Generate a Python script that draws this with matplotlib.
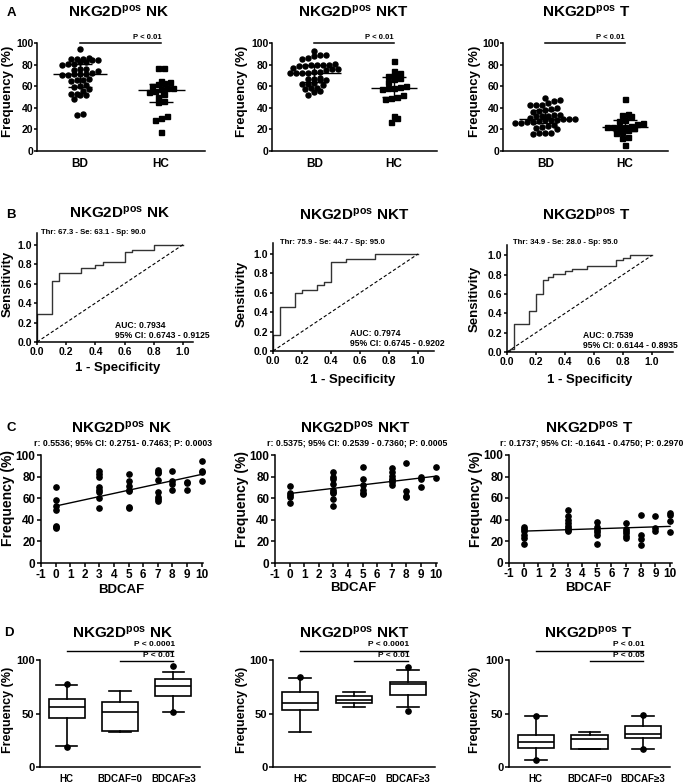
import numpy as np
import matplotlib
matplotlib.use('Agg')
import matplotlib.pyplot as plt

W, H = 687, 784
plt.rcParams['font.family'] = ['Liberation Sans', 'DejaVu Sans']
plt.rcParams['font.weight'] = 'bold'
plt.rcParams['mathtext.fontset'] = 'custom'
plt.rcParams['mathtext.rm'] = 'Liberation Sans:bold'
plt.rcParams['mathtext.default'] = 'rm'
plt.rcParams['axes.unicode_minus'] = False

cells = ['NK', 'NKT', 'T']

# ---- A: frequency, BD vs HC ----
nk_bd = [94, 85, 85, 84, 84, 85, 86, 82, 81, 82, 80, 81, 76, 75, 74, 76,
         72, 71, 71, 70, 71, 70, 66, 67, 65, 66, 60, 61, 59, 57, 56,
         53, 52, 52, 53, 48, 33, 34]
nk_hc = [77, 77, 65, 64, 63, 62, 60, 58, 58, 57, 56, 55, 53, 50, 46, 45,
         31, 32, 29, 18]
nkt_bd = [93, 89, 88, 89, 86, 85, 80, 79, 80, 80, 79, 81, 80, 76, 76, 75, 77,
          72, 73, 72, 72, 73, 72, 67, 66, 67, 66, 68, 62, 61, 62, 63,
          58, 57, 58, 55, 56, 52]
nkt_hc = [83, 74, 72, 69, 70, 68, 67, 64, 60, 59, 58, 57, 58, 52, 50, 49,
          48, 32, 31, 27]
t_bd = [49, 46, 47, 43, 43, 44, 43, 40, 38, 39, 37, 36, 33, 32, 32, 33, 32,
        31, 30, 29, 29, 30, 29, 28, 30, 27, 26, 27, 26, 24, 23, 22, 21, 20,
        17, 17, 16, 17]
t_hc = [48, 34, 33, 32, 28, 29, 26, 25, 23, 22, 22, 22, 21, 22, 18, 19, 17,
        13, 12, 6]
a_groups = ['BD', 'HC']
a_p = ['P < 0.01', 'P < 0.01', 'P < 0.01']

# ---- B: ROC curves (step vertices) ----
nk_fpr = [0, 0, 0.10, 0.15, 0.30, 0.40, 0.45, 0.60, 0.65, 0.80, 1.0]
nk_tpr = [0, 0.29, 0.63, 0.71, 0.76, 0.79, 0.82, 0.92, 0.95, 1.0, 1.0]
nkt_fpr = [0, 0, 0.05, 0.15, 0.20, 0.30, 0.35, 0.40, 0.50, 0.70, 1.0]
nkt_tpr = [0, 0.16, 0.45, 0.60, 0.63, 0.68, 0.71, 0.92, 0.945, 1.0, 1.0]
t_fpr = [0, 0, 0.02, 0.05, 0.15, 0.20, 0.25, 0.28, 0.32, 0.40, 0.45, 0.55,
         0.75, 0.80, 0.85, 1.0]
t_tpr = [0, 0.01, 0.03, 0.29, 0.42, 0.60, 0.74, 0.78, 0.81, 0.84, 0.86, 0.89,
         0.95, 0.97, 1.0, 1.0]
roc_thr = ['Thr: 67.3 - Se: 63.1 - Sp: 90.0', 'Thr: 75.9 - Se: 44.7 - Sp: 95.0',
           'Thr: 34.9 - Se: 28.0 - Sp: 95.0']
roc_auc = ['AUC: 0.7934', 'AUC: 0.7974', 'AUC: 0.7539']
roc_ci = ['95% CI: 0.6743 - 0.9125', '95% CI: 0.6745 - 0.9202',
          '95% CI: 0.6144 - 0.8935']

# ---- C: correlation with BDCAF ----
bdcaf_scores = [0, 3, 5, 7, 8, 9, 10]
nk_c = [[70, 58, 53, 49, 34, 33, 32], [85, 82, 80, 70, 68, 66, 60, 51],
        [82, 76, 71, 68, 67, 52, 51], [86, 84, 83, 77, 66, 61, 59, 57],
        [85, 76, 73, 68], [75, 74, 68], [94, 85, 84, 76]]
nkt_c = [[71, 65, 63, 61, 56], [84, 80, 78, 73, 68, 66, 65, 59, 53],
         [89, 78, 72, 68, 65, 64], [88, 84, 81, 78, 77, 75, 72],
         [93, 67, 62, 61], [80, 78, 70], [89, 79]]
t_c = [[33, 31, 29, 26, 23, 17], [49, 43, 40, 37, 34, 32, 30, 29],
       [38, 33, 30, 28, 26, 17], [37, 31, 29, 27, 25, 23],
       [44, 26, 22, 16], [43, 32, 29], [46, 44, 39, 28]]
c_stats = ['r: 0.5536; 95% CI: 0.2751- 0.7463; P: 0.0003',
           'r: 0.5375; 95% CI: 0.2539 - 0.7360; P: 0.0005',
           'r: 0.1737; 95% CI: -0.1641 - 0.4750; P: 0.2970']

# ---- D: box plots (whislo, q1, med, q3, whishi, fliers) ----
d_groups = ['HC', 'BDCAF=0', 'BDCAF\u22653']
nk_box = [(19.4, 46, 56, 63.7, 77, [77.8, 18.6]),
          (33, 34, 51, 61, 71, []),
          (51.5, 66.5, 75.3, 82.5, 89, [94, 51])]
nkt_box = [(32.5, 53, 60, 70.3, 83.4, [83.8]),
           (56, 59.4, 62.5, 66, 70.3, []),
           (56, 67, 78, 79.7, 90.6, [93, 52.5])]
t_box = [(6.5, 18, 23.4, 30.3, 47.5, [48, 6.2]),
         (16.6, 17.2, 26, 29.7, 32.8, []),
         (16.8, 27.2, 30.6, 38.4, 47.5, [49, 16.6])]
d_p = [('P < 0.0001', 'P < 0.01'), ('P < 0.0001', 'P < 0.01'),
       ('P < 0.01', 'P < 0.05')]

fig = plt.figure(figsize=(W / 100, H / 100), dpi=100)


def add_ax(l, t, r, b):
    ax = fig.add_axes([l / W, 1 - b / H, (r - l) / W, (b - t) / H])
    for s in ['top', 'right']:
        ax.spines[s].set_visible(False)
    for s in ['left', 'bottom']:
        ax.spines[s].set_linewidth(1.1)
    ax.tick_params(width=1.1, length=2.2, pad=1)
    return ax


def ftext(x, y, s, **kw):
    fig.text(x / W, 1 - y / H, s, **kw)


def title(x, y, cell):
    ftext(x, y, 'NKG2D$^{pos}$ ' + cell, fontsize=11, ha='center', va='center')


def rows_layout(vals, ypx, xpx, row_h=4.6, step=6.0):
    # graphpad-like: nearby values share a row, spread sideways
    vals = np.asarray(vals, float)
    offs = np.zeros(len(vals))
    groups = []
    for i in np.argsort(vals):
        if groups and (vals[i] - vals[groups[-1][0]]) * ypx < row_h:
            groups[-1].append(i)
        else:
            groups.append([i])
    for g in groups:
        n = len(g)
        for j, i in enumerate(g):
            offs[i] = (j - (n - 1) / 2) * step / xpx
    return offs


# ================= Row A =================
a_boxes = [(37, 43, 205, 151), (272, 43, 437, 151), (503, 43, 668, 151)]
a_data = [(nk_bd, nk_hc), (nkt_bd, nkt_hc), (t_bd, t_hc)]
a_title = [(118, 12), (353, 12), (586, 12)]
a_ylab = [8, 242, 475]
for k in range(3):
    l, t, r, b = a_boxes[k]
    ax = add_ax(l, t, r, b)
    ax.set_xlim(0.47, 2.54)
    ax.set_ylim(0, 100)
    xpx = (r - l) / 2.07
    ypx = (b - t) / 100
    for g, (vals, mk) in enumerate(zip(a_data[k], ['o', 's'])):
        xpos = g + 1 + rows_layout(vals, ypx, xpx)
        ax.plot(xpos, vals, mk, color='black', ms=3.6, ls='none', clip_on=False)
        q1, med, q3 = np.percentile(vals, [25, 50, 75])
        hw = 0.33 if g == 0 else 0.29
        ax.hlines(med, g + 1 - hw, g + 1 + hw, color='black', lw=1.0)
        ax.hlines([q1, q3], g + 1 - 0.15, g + 1 + 0.15, color='black', lw=1.0)
        ax.vlines(g + 1, q1, q3, color='black', lw=1.0)
    ax.plot([1, 2], [100, 100], color='black', lw=1.1, clip_on=False)
    ax.text(2, 102, a_p[k], fontsize=5.5, ha='right', va='bottom')
    ax.set_xticks([1, 2])
    ax.set_xticklabels(a_groups, fontsize=8.5)
    ax.tick_params(axis='x', length=0, pad=5)
    ax.set_yticks(range(0, 101, 20))
    ax.tick_params(axis='y', labelsize=7.5, pad=0.5)
    title(*a_title[k], cells[k])
    ftext(a_ylab[k], 91, 'Frequency (%)', fontsize=9.5, rotation=90,
          ha='center', va='center')

# ================= Row B =================
b_boxes = [(37, 233, 192.5, 342), (273, 243, 434, 351), (507, 245, 673, 352)]
b_lims = [(1.065, 1.12), (1.11, 1.113), (1.145, 1.107)]
b_roc = [(nk_fpr, nk_tpr), (nkt_fpr, nkt_tpr), (t_fpr, t_tpr)]
b_title = [(119, 213), (354, 215), (586, 215)]
b_thr = [(41, 232), (280, 243), (513, 243)]
b_auc = [(115, 325, 336), (350, 333, 343), (583, 335, 345)]
b_ylab = [(8, 284), (242, 294), (475, 299)]
b_xlab = [(118, 368), (353, 380), (590, 380)]
for k in range(3):
    ax = add_ax(*b_boxes[k])
    ax.set_xlim(0, b_lims[k][0])
    ax.set_ylim(0, b_lims[k][1])
    fpr, tpr = b_roc[k]
    ax.step(fpr, tpr, where='post', color='#333333', lw=1.0)
    ax.plot([0, 1], [0, 1], color='black', lw=0.8, ls=(0, (3, 2)))
    ax.set_xticks(np.arange(0, 1.01, 0.2))
    ax.set_yticks(np.arange(0, 1.01, 0.2))
    ax.xaxis.set_major_formatter(matplotlib.ticker.FormatStrFormatter('%.1f'))
    ax.yaxis.set_major_formatter(matplotlib.ticker.FormatStrFormatter('%.1f'))
    ax.tick_params(labelsize=7.5, length=2.5)
    title(*b_title[k], cells[k])
    ftext(*b_thr[k], roc_thr[k], fontsize=5.6, ha='left', va='center')
    x, y1, y2 = b_auc[k]
    ftext(x, y1, roc_auc[k], fontsize=6.2, ha='left', va='center')
    ftext(x, y2, roc_ci[k], fontsize=6.2, ha='left', va='center')
    ftext(*b_ylab[k], 'Sensitivity', fontsize=9.5, rotation=90, ha='center', va='center')
    ftext(*b_xlab[k], '1 - Specificity', fontsize=9.5, ha='center', va='center')

# ================= Row C =================
c_boxes = [(41, 455, 203, 563), (275, 455, 437, 563), (509, 455, 671.5, 562.5)]
c_data = [nk_c, nkt_c, t_c]
c_title = [(121, 428), (355, 428), (589, 428)]
c_stat = [(123, 443), (357, 443), (592, 443)]
c_ylab = [(8, 498), (242, 499), (476, 499)]
c_xlab = [(121, 590), (353, 588), (588, 588)]
for k in range(3):
    ax = add_ax(*c_boxes[k])
    ax.set_xlim(-1, 10.1)
    ax.set_ylim(0, 100)
    xs = np.concatenate([[s] * len(v) for s, v in zip(bdcaf_scores, c_data[k])])
    ys = np.concatenate(c_data[k])
    ax.plot(xs, ys, 'o', color='black', ms=3.8, clip_on=False)
    slope, icpt = np.polyfit(xs, ys, 1)
    ax.plot([0, 10], [icpt, icpt + 10 * slope], color='black', lw=1.0)
    ax.set_xticks(range(-1, 11))
    ax.set_yticks(range(0, 101, 20))
    ax.tick_params(labelsize=8.5, length=3)
    title(*c_title[k], cells[k])
    ftext(*c_stat[k], c_stats[k], fontsize=6.3, ha='center', va='center')
    ftext(*c_ylab[k], 'Frequency (%)', fontsize=10, rotation=90, ha='center', va='center')
    ftext(*c_xlab[k], 'BDCAF', fontsize=9.5, ha='center', va='center')

# ================= Row D =================
d_boxes = [(40, 660, 200, 767), (273, 660, 435, 767), (509, 660, 670, 767)]
d_data = [nk_box, nkt_box, t_box]
d_title = [(122, 633), (354, 633), (588, 633)]
d_ylab = [8, 242, 475]
for k in range(3):
    ax = add_ax(*d_boxes[k])
    ax.set_xlim(0.5, 3.5)
    ax.set_ylim(0, 100)
    stats = [dict(whislo=w0, q1=a, med=m, q3=c, whishi=w1, fliers=f)
             for (w0, a, m, c, w1, f) in d_data[k]]
    ax.bxp(stats, positions=[1, 2, 3], widths=0.68, capwidths=0.4,
           patch_artist=True, manage_ticks=False,
           boxprops=dict(facecolor='white', edgecolor='black', lw=1.2),
           medianprops=dict(color='black', lw=1.2),
           whiskerprops=dict(color='black', lw=1.2),
           capprops=dict(color='black', lw=1.2),
           flierprops=dict(marker='o', markerfacecolor='black',
                           markeredgecolor='black', markersize=3.8))
    p1, p2 = d_p[k]
    ax.plot([1, 3], [108.7, 108.7], color='black', lw=1.0, clip_on=False)
    ax.text(3.03, 111, p1, fontsize=6, ha='right', va='bottom')
    ax.plot([2, 3], [99, 99], color='black', lw=1.0, clip_on=False)
    ax.text(3.03, 101, p2, fontsize=6, ha='right', va='bottom')
    ax.set_xticks([1, 2, 3])
    ax.set_xticklabels(d_groups, fontsize=7)
    ax.tick_params(axis='x', length=0, pad=5)
    ax.set_yticks([0, 50, 100])
    ax.tick_params(axis='y', labelsize=8, length=3)
    title(*d_title[k], cells[k])
    ftext(d_ylab[k], 710, 'Frequency (%)', fontsize=9, rotation=90, ha='center', va='center')

# panel letters
for letter, (x, y) in zip('ABCD', [(11, 13), (11, 215), (11, 428), (9, 633)]):
    ftext(x, y, letter, fontsize=9.5, ha='center', va='center')

fig.savefig('out.png', dpi=100)
